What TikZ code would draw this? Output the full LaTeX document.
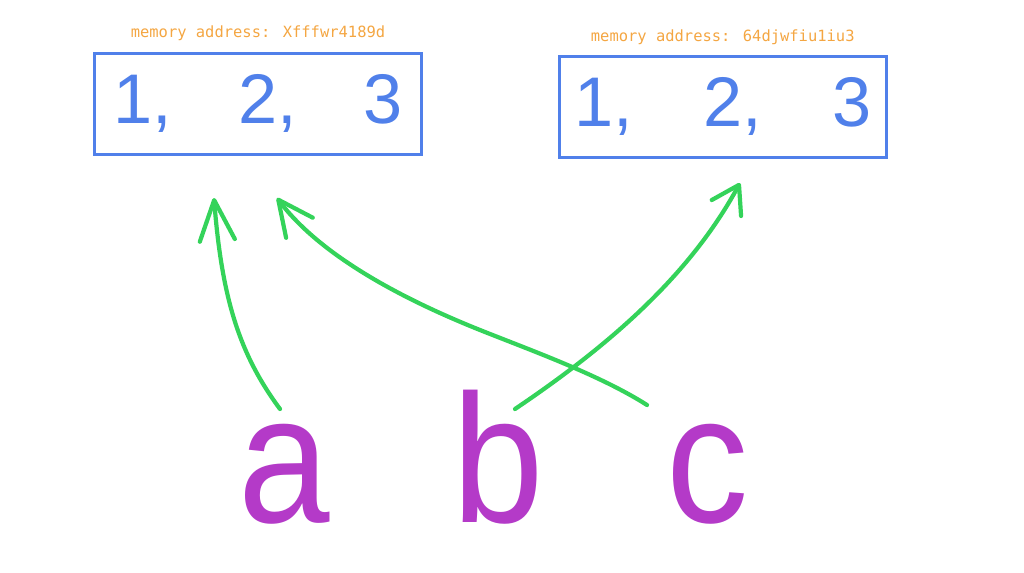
\documentclass[tikz,border=0pt]{standalone}
\usepackage{fontspec}
\setmainfont{Liberation Sans}
\newfontfamily\addrfont{DejaVu Sans Mono}
\newfontfamily\varfont[FakeStretch=0.9]{Liberation Sans}
\usetikzlibrary{arrows.meta, positioning}
\definecolor{listblue}{HTML}{5080EA}
\definecolor{addrorange}{HTML}{F4A642}
\definecolor{refgreen}{HTML}{34D35A}
\definecolor{varpurple}{HTML}{B43AC8}

\begin{document}
\begin{tikzpicture}[x=0.02cm, y=-0.02cm,
    listbox/.style={draw=listblue, line width=1.7pt, minimum width=6.54cm, minimum height=2.02cm, text=listblue, font=\fontsize{40}{48}\selectfont},
    addr/.style={text=addrorange, inner sep=0pt, font=\addrfont\fontsize{8.8}{11}\selectfont},
    var/.style={text=varpurple, inner sep=0pt, anchor=base, font=\varfont\fontsize{104}{120}\selectfont},
    ref/.style={draw=refgreen, line width=2.4pt, line cap=round, line join=round}]
  \useasboundingbox (0, 0) rectangle (1024, 572);
  % the two lists
  \node[listbox] (listA) at (258, 103.75) {1,\hspace{38pt}2,\hspace{38pt}3};
  \node[listbox] (listB) at (722.75, 106.75) {1,\hspace{40pt}2,\hspace{40pt}3};
  \node[addr, above=0.21cm of listA] (addrA) {memory address: Xfffwr4189d};
  \node[addr, above=0.2cm of listB] (addrB) {memory address: 64djwfiu1iu3};
  % the names
  \node[var] (varA) at (284.5, 522) {a};
  \node[var] (varB) at (498, 522) {b};
  \node[var] (varC) at (707.5, 522) {c};
  % ends of the arrows
  \coordinate (tailA) at (280, 409);
  \coordinate (tailB) at (515, 409);
  \coordinate (tailC) at (647, 405);
  \coordinate (tipA) at (214, 198);
  \coordinate (tipB) at (740, 183);
  \coordinate (tipC) at (277, 198);
  \draw[ref, -{Straight Barb[length=23pt, width=20pt, round]}] (tailA) .. controls (240, 355) and (222, 300) .. (tipA);
  \draw[ref, -{Straight Barb[length=15pt, width=19pt, round]}] (tailB) .. controls (610, 345) and (690, 275) .. (tipB);
  \draw[ref, -{Straight Barb[length=20pt, width=19pt, round]}] (tailC) .. controls (600, 375) and (530, 350) .. (480, 330)
    .. controls (400, 298) and (320, 255) .. (tipC);
\end{tikzpicture}
\end{document}
